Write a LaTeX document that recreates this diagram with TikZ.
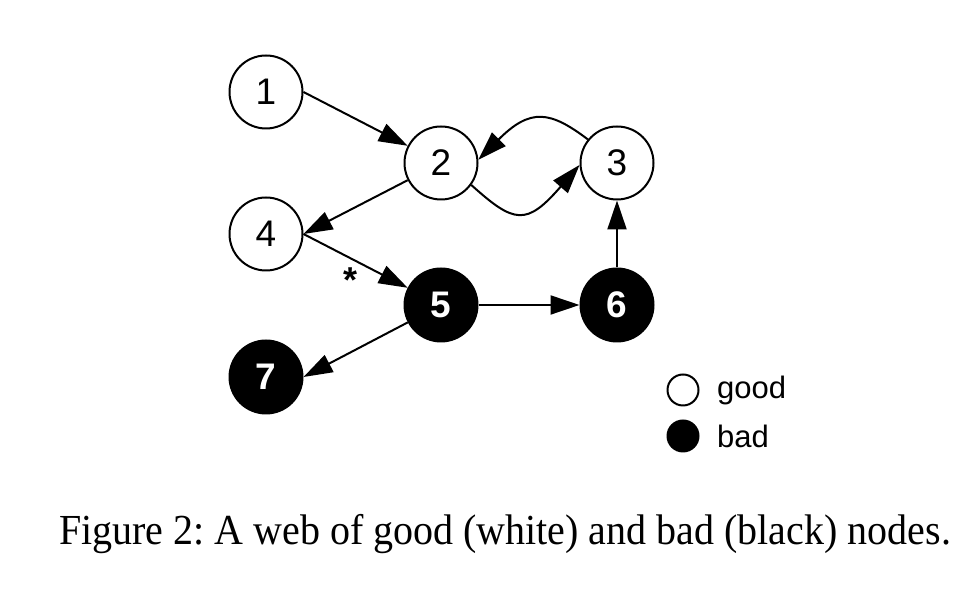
\documentclass[tikz,border=0pt]{standalone}
\usepackage{fontspec}
\setmainfont{Liberation Sans}
\newfontfamily\capfont{Liberation Serif}
\usetikzlibrary{arrows.meta}
\frenchspacing
\begin{document}
\begin{tikzpicture}[x=1pt,y=1pt,
  vtx/.style={circle,draw=black,line width=2pt,minimum size=73pt,inner sep=0pt,font=\fontsize{37}{37}\selectfont},
  goodv/.style={vtx,fill=white},
  badv/.style={vtx,fill=black,text=white,font=\fontsize{37}{37}\selectfont\bfseries},
  lgd/.style={circle,draw=black,line width=2pt,minimum size=31pt,inner sep=0pt},
  conn/.style={line width=2pt,-{Triangle[length=29pt,width=19pt]}},
  lbl/.style={font=\fontsize{31}{31}\selectfont,anchor=west,inner sep=0pt}]
\useasboundingbox (0,0) rectangle (980,604);
\node[goodv] (n1) at (266,512) {1};
\node[goodv] (n2) at (441,441) {2};
\node[goodv] (n3) at (617,441) {3};
\node[goodv] (n4) at (266,370) {4};
\node[badv] (n5) at (441,299) {5};
\node[badv] (n6) at (617,299) {6};
\node[badv] (n7) at (266,227) {7};
\draw[conn] (n1.east) -- (n2);
\draw[conn] (n2) -- (n4.east);
\draw[conn] (n4.east) -- (n5);
\draw[conn] (n5) -- (n6);
\draw[conn] (n6) -- (n3);
\draw[conn] (n5) -- (n7.east);
\draw[conn] (n3.141) .. controls +(143:47) and +(45:74) .. (n2.5);
\draw[conn] (n2.-36) .. controls +(-42:58) and +(-131:81) .. (n3.183);
\node[anchor=base,inner sep=0pt,font=\fontsize{36}{36}\selectfont\bfseries] (st) at (351,311) {*};
\node[lgd,fill=white] (lg) at (683,214) {};
\node[lgd,fill=black] (lb) at (683,168) {};
\node[lbl] (tg) at (717,214) {good};
\node[lbl] (tb) at (717,168) {bad};
\node[font=\capfont\fontsize{40}{40}\selectfont,anchor=base,inner sep=0pt] (cap) at (505,59) {\scalebox{1}[1.07]{Figure 2: A web of good (white) and bad (black) nodes.}};
\end{tikzpicture}
\end{document}
